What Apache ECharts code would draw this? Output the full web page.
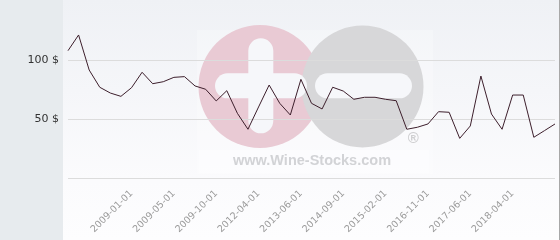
<!DOCTYPE html>
<html>
<head>
<meta charset="utf-8">
<script src="https://cdn.jsdelivr.net/npm/echarts@6/dist/echarts.min.js"></script>
<style>
html,body{margin:0;padding:0;background:#fff;}
#c{width:560px;height:240px;}
</style>
</head>
<body>
<div id="c"></div>
<script>
var categories = ['', '', '', '', '', '', '2009-01-01', '', '', '', '2009-05-01', '', '', '', '2009-10-01', '', '', '', '2012-04-01', '', '', '', '2013-06-01', '', '', '', '2014-09-01', '', '', '', '2015-02-01', '', '', '', '2016-11-01', '', '', '', '2017-06-01', '', '', '', '2018-04-01', '', '', '', ''];
var prices = [107.9, 121.2, 91.5, 76.9, 72.0, 69.2, 76.5, 89.6, 79.9, 81.6, 85.3, 85.9, 78.0, 75.2, 65.3, 74.0, 54.8, 41.3, 60.2, 78.8, 63.3, 53.4, 83.6, 63.3, 58.5, 76.9, 73.7, 66.7, 68.4, 68.4, 66.7, 65.5, 41.3, 43.0, 45.8, 56.2, 55.7, 33.6, 44.1, 86.4, 54.2, 41.3, 70.3, 70.3, 34.5, 40.1, 45.8];
var yTicks = [0, 50, 100, 150];

var chart = echarts.init(document.getElementById('c'), null, {renderer: 'canvas'});
chart.setOption({
  animation: false,
  backgroundColor: '#fcfcfd',
  grid: {left: 68, right: 5, top: 1, bottom: 62, containLabel: false},
  graphic: [
    {type: 'rect', z: -20, silent: true, shape: {x: 0, y: 0, width: 63, height: 240}, style: {fill: '#e7ebee'}},
    {type: 'rect', z: -20, silent: true, shape: {x: 63, y: 0, width: 496, height: 240},
      style: {fill: new echarts.graphic.LinearGradient(0, 0, 0, 1, [{offset: 0, color: '#eff1f5'}, {offset: 0.75, color: '#fbfbfd'}, {offset: 1, color: '#fdfdfe'}])}},
    {type: 'rect', z: -20, silent: true, shape: {x: 559, y: 0, width: 1, height: 240}, style: {fill: '#a8a8a8'}},
    {type: 'rect', z: -19, silent: true, shape: {x: 197, y: 30, width: 236, height: 144}, style: {fill: 'rgba(255,255,255,0.25)'}},
    {type: 'circle', z: -18, silent: true, shape: {cx: 260, cy: 86.5, r: 61.5}, style: {fill: '#e9cad4'}},
    {type: 'circle', z: -17, silent: true, shape: {cx: 362.5, cy: 86.5, r: 61}, style: {fill: '#d7d7d9'}},
    {type: 'rect', z: -16, silent: true, shape: {x: 248.3, y: 38.3, width: 25, height: 95, r: 12.5}, style: {fill: '#f6f7fa'}},
    {type: 'rect', z: -16, silent: true, shape: {x: 215, y: 73.3, width: 92, height: 25, r: 12.5}, style: {fill: '#f6f7fa'}},
    {type: 'rect', z: -16, silent: true, shape: {x: 315, y: 73.3, width: 97, height: 25, r: 12.5}, style: {fill: '#f6f7fa'}},
    {type: 'text', z: -16, silent: true, x: 413.3, y: 139.3, style: {text: '\u00AE', fill: '#cfcfd1', font: 'bold 15px "Liberation Sans"', align: 'center', verticalAlign: 'middle'}},
    {type: 'rect', z: -16, silent: true, shape: {x: 199, y: 150, width: 230, height: 23}, style: {fill: 'rgba(255,255,255,0.4)'}},
    {type: 'text', z: -15, silent: true, x: 312, y: 161, style: {text: 'www.Wine-Stocks.com', fill: '#d2d3d6', font: 'bold 14.5px "Liberation Sans"', align: 'center', verticalAlign: 'middle'}}
  ],
  xAxis: {
    type: 'category',
    data: categories,
    boundaryGap: false,
    axisLine: {show: false},
    axisTick: {show: false},
    splitLine: {show: false},
    axisLabel: {
      interval: 0,
      rotate: 45,
      margin: 14,
      color: '#9a9a9a',
      fontSize: 9.5,
      fontFamily: 'DejaVu Sans'
    }
  },
  yAxis: {
    type: 'value',
    min: yTicks[0],
    max: yTicks[yTicks.length - 1],
    interval: 50,
    axisLine: {show: false},
    axisTick: {show: false},
    splitLine: {show: true, showMaxLine: false, lineStyle: {color: '#dcdcdc', width: 1}},
    axisLabel: {
      margin: 9,
      showMinLabel: false,
      showMaxLabel: false,
      color: '#333',
      fontSize: 11,
      fontFamily: 'DejaVu Sans',
      formatter: '{value} $'
    }
  },
  series: [{
    type: 'line',
    data: prices,
    symbol: 'none',
    z: 5,
    lineStyle: {color: '#3d1f2c', width: 1}
  }]
});
</script>
</body>
</html>
